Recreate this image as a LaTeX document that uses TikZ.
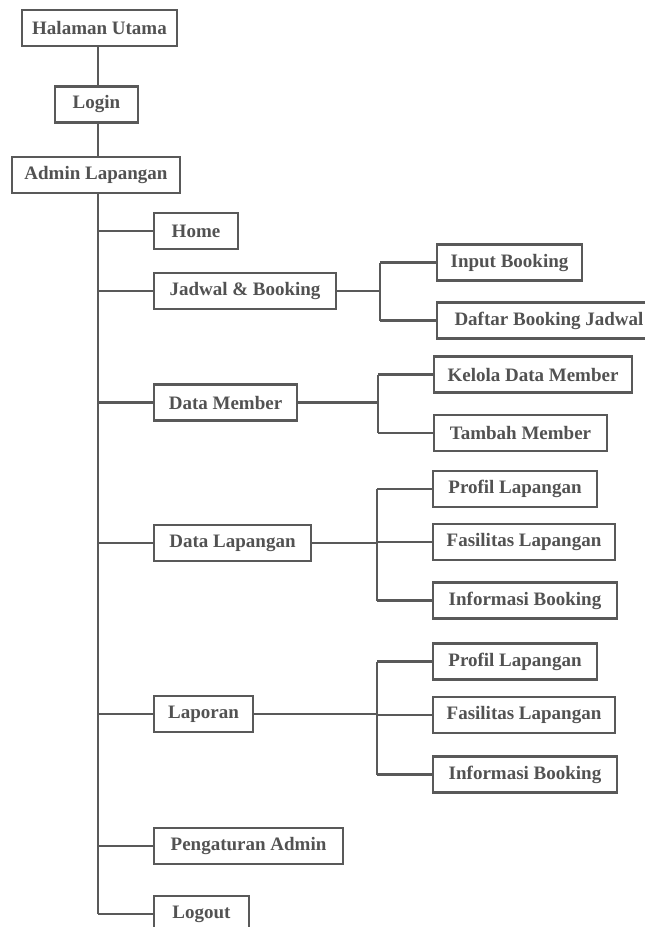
\documentclass[tikz,border=0pt]{standalone}
\usepackage{fontspec}
\setmainfont{Liberation Serif}
\begin{document}
\begin{tikzpicture}[x=1pt,y=-1pt,
  ink/.style={draw=black!65, line width=2.2pt},
  menubox/.style={ink, rectangle, minimum height=36pt, inner sep=0pt,
    text=black!68, font=\fontsize{19}{22}\selectfont\bfseries},
  link/.style={ink}]
\useasboundingbox (0,0) rectangle (645,927);
\clip (0,0) rectangle (645,927);

% top of the hierarchy
\node[menubox, minimum width=155pt] (top)   at (99.5,28)   {Halaman Utama};
\node[menubox, minimum width=83pt]  (login) at (96.5,104.5) {Login};
\node[menubox, minimum width=168pt] (admin) at (96,175)    {Admin Lapangan};

% main menu entries
\node[menubox, minimum width=84pt]  (home)    at (196,231)    {Home};
\node[menubox, minimum width=182pt] (jadwal)  at (245,291)    {Jadwal \& Booking};
\node[menubox, minimum width=143pt] (member)  at (225.5,402.5) {Data Member};
\node[menubox, minimum width=157pt] (datalap) at (232.5,543)  {Data Lapangan};
\node[menubox, minimum width=99pt]  (laporan) at (203.5,714)  {Laporan};
\node[menubox, minimum width=189pt] (atur)    at (248.5,846)  {Pengaturan Admin};
\node[menubox, minimum width=95pt]  (logout)  at (201.5,914)  {Logout};

% sub menus
\node[menubox, minimum width=145pt] (input)  at (509.5,262.5) {Input Booking};
\node[menubox, minimum width=224pt] (daftar) at (549,320.5)   {Daftar Booking Jadwal};
\node[menubox, minimum width=198pt] (kelola) at (533,374.5)   {Kelola Data Member};
\node[menubox, minimum width=173pt] (tambah) at (520.5,433)   {Tambah Member};
\node[menubox, minimum width=164pt] (profA)  at (515,489)     {Profil Lapangan};
\node[menubox, minimum width=182pt] (fasA)   at (524,542)     {Fasilitas Lapangan};
\node[menubox, minimum width=184pt] (infA)   at (525,600.5)   {Informasi Booking};
\node[menubox, minimum width=164pt] (profB)  at (515,661.5)   {Profil Lapangan};
\node[menubox, minimum width=182pt] (fasB)   at (524,715)     {Fasilitas Lapangan};
\node[menubox, minimum width=184pt] (infB)   at (525,774.5)   {Informasi Booking};

% branch columns
\coordinate (tx) at (98,0);
\coordinate (jx) at (380,0);
\coordinate (mx) at (378,0);
\coordinate (dx) at (377,0);
\coordinate (lx) at (377,0);

% chain to the admin page
\draw[link] (top.south -| tx) -- (login.north -| tx);
\draw[link] (login.south -| tx) -- (admin.north -| tx);

% main trunk
\draw[link] (admin.south -| tx) -- (tx |- logout.west);
\foreach \n in {home,jadwal,member,datalap,laporan,atur,logout}
  \draw[link] (tx |- \n.west) -- (\n.west);

% Jadwal & Booking
\draw[link] (jadwal.east) -- (jx |- jadwal.east);
\draw[link] (jx |- input.west) -- (jx |- daftar.west);
\foreach \n in {input,daftar} \draw[link] (jx |- \n.west) -- (\n.west);

% Data Member
\draw[link] (member.east) -- (mx |- member.east);
\draw[link] (mx |- kelola.west) -- (mx |- tambah.west);
\foreach \n in {kelola,tambah} \draw[link] (mx |- \n.west) -- (\n.west);

% Data Lapangan
\draw[link] (datalap.east) -- (dx |- datalap.east);
\draw[link] (dx |- profA.west) -- (dx |- infA.west);
\foreach \n in {profA,fasA,infA} \draw[link] (dx |- \n.west) -- (\n.west);

% Laporan
\draw[link] (laporan.east) -- (lx |- laporan.east);
\draw[link] (lx |- profB.west) -- (lx |- infB.west);
\foreach \n in {profB,fasB,infB} \draw[link] (lx |- \n.west) -- (\n.west);
\end{tikzpicture}
\end{document}
